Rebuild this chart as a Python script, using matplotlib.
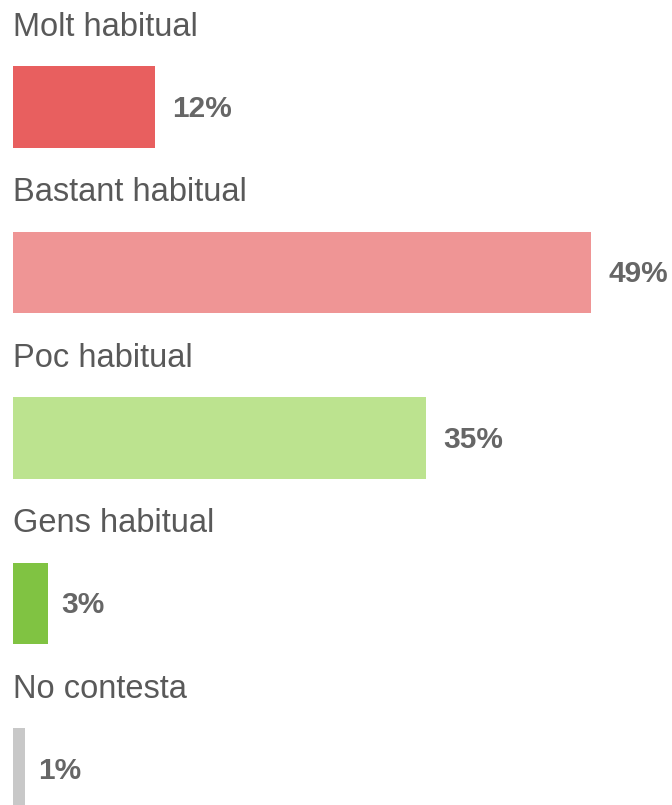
import numpy as np
import matplotlib.pyplot as plt

plt.rcParams['font.family'] = ['Liberation Sans', 'DejaVu Sans']

categories = ['Molt habitual', 'Bastant habitual', 'Poc habitual', 'Gens habitual', 'No contesta']
values = [12, 49, 35, 3, 1]
colors = ['#e85f5f', '#ef9595', '#bce38f', '#80c342', '#c8c8c8']

fig = plt.figure(figsize=(6.72, 8.05), dpi=100)
ax = fig.add_axes([0, 0, 1, 1])

# one unit on y = one category row (label + bar)
pos = np.arange(len(categories))
ax.barh(pos, values, height=0.495, color=colors)

for i, (cat, v) in enumerate(zip(categories, values)):
    ax.text(0, i - 0.43, cat, fontsize=23.5, color='#595959', va='baseline', ha='left')
    # single digit labels sit a bit closer to their bar
    pad = 1.5 if v >= 10 else 1.1
    ax.text(v + pad, i + 0.01, f'{v}%', fontsize=21.5, fontweight='bold',
            color='#666666', va='center', ha='left')

ax.set_xlim(-1.1, 55.85)
ax.set_ylim(4.218, -0.647)
ax.axis('off')

fig.savefig('out.png', dpi=100)
